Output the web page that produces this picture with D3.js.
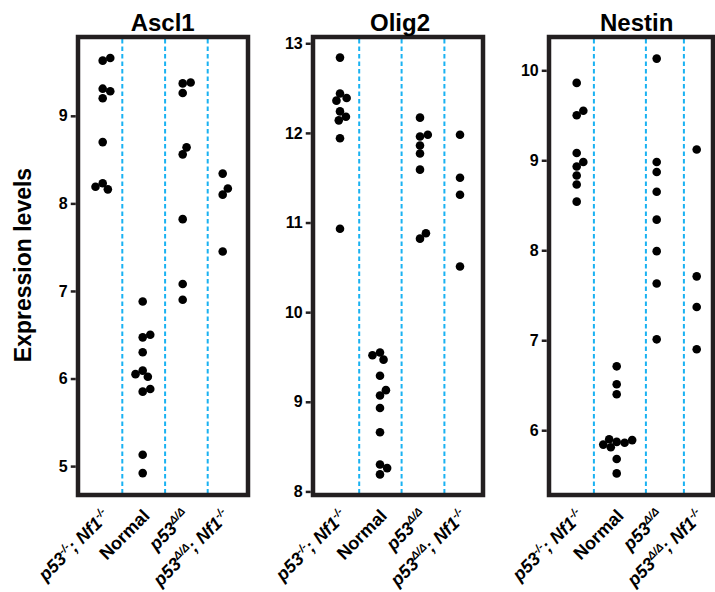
<!DOCTYPE html>
<html>
<head>
<meta charset="utf-8">
<script src="https://cdn.jsdelivr.net/npm/d3@7"></script>
<style>
  body { margin: 0; background: #fff; }
  text { font-family: "Liberation Sans", Arial, sans-serif; }
</style>
</head>
<body>
<script>
// Expression levels per group, three genes side by side

const genes = ["Ascl1", "Olig2", "Nestin"];

// label parts: [text, style] where style is "i" (italic), "sup" (superscript) or ""
const groupLabels = [
  [["p53", "i"], ["-/-", "sup"], ["; ", "i"], ["Nf1", "i"], ["-/-", "sup"]],
  [["Normal", ""]],
  [["p53", "i"], ["Δ/Δ", "sup"]],
  [["p53", "i"], ["Δ/Δ", "sup"], ["; ", "i"], ["Nf1", "i"], ["-/-", "sup"]]
];

const ascl1 = [
  [9.63, 9.66, 9.31, 9.28, 9.20, 8.70, 8.23, 8.16, 8.19],
  [6.88, 6.47, 6.50, 6.30, 6.09, 6.02, 6.05, 5.85, 5.88, 5.13, 4.92],
  [9.37, 9.38, 9.26, 8.56, 8.64, 7.82, 7.08, 6.90],
  [8.34, 8.10, 8.17, 7.45]
];
const olig2 = [
  [12.84, 12.44, 12.39, 12.36, 12.24, 12.18, 12.14, 11.94, 10.93],
  [9.55, 9.47, 9.52, 9.29, 9.07, 9.13, 8.93, 8.66, 8.30, 8.26, 8.19],
  [12.17, 11.96, 11.98, 11.86, 11.77, 11.59, 10.82, 10.88],
  [11.98, 11.50, 11.31, 10.51]
];
const nestin = [
  [9.86, 9.50, 9.55, 9.08, 8.93, 8.98, 8.83, 8.73, 8.54],
  [6.71, 6.51, 6.40, 5.87, 5.86, 5.81, 5.84, 5.89, 5.90, 5.68, 5.52],
  [10.13, 8.98, 8.87, 8.65, 8.34, 7.99, 7.63, 7.01],
  [9.12, 7.71, 7.37, 6.90]
];

const ascl1Ticks = [5, 6, 7, 8, 9];
const olig2Ticks = [8, 9, 10, 11, 12, 13];
const nestinTicks = [6, 7, 8, 9, 10];

const ascl1Domain = [4.67, 9.90];
const olig2Domain = [7.96, 13.07];
const nestinDomain = [5.28, 10.37];

// layout
const width = 715, height = 592;
const frameTop = 37, frameBottom = 495;
const panelLeft = [78, 313, 549];
const panelWidth = [170, 170, 164];
const dotOffset = [24.7, 27, 27.7];   // first group centre from panel left
const groupStep = 40;
// dotted separators, in group units
const separators = [[0.49, 1.56, 2.625], [0.48, 1.54, 2.61], [0.43, 1.73, 2.68]];
const r = 4.3;

const panels = [
  { gene: genes[0], values: ascl1, ticks: ascl1Ticks, domain: ascl1Domain },
  { gene: genes[1], values: olig2, ticks: olig2Ticks, domain: olig2Domain },
  { gene: genes[2], values: nestin, ticks: nestinTicks, domain: nestinDomain }
];

// simple beeswarm: each dot goes to the free x closest to the centre
function dodge(vals, y, d) {
  const placed = [];
  return vals.map(v => {
    const py = y(v);
    const cands = [0];
    placed.forEach(p => {
      const dy = Math.abs(p.y - py);
      if (dy < d) {
        const dx = Math.sqrt(d * d - dy * dy);
        cands.push(p.x + dx, p.x - dx);
      }
    });
    cands.sort((a, b) => Math.abs(a) - Math.abs(b) || b - a);
    const x = cands.find(c => placed.every(p => (p.x - c) ** 2 + (p.y - py) ** 2 >= d * d - 0.01));
    placed.push({ x, y: py });
    return x;
  });
}

const svg = d3.select("body").append("svg")
  .attr("width", width)
  .attr("height", height);

panels.forEach((p, pi) => {
  const left = panelLeft[pi];
  const g = svg.append("g");

  const y = d3.scaleLinear().domain(p.domain).range([frameBottom, frameTop]);
  const x = d3.scaleLinear()
    .domain([0, 3])
    .range([left + dotOffset[pi], left + dotOffset[pi] + 3 * groupStep]);

  // dotted separators
  g.selectAll("line.sep")
    .data(separators[pi])
    .join("line")
    .attr("class", "sep")
    .attr("x1", d => x(d))
    .attr("x2", d => x(d))
    .attr("y1", frameTop + 2)
    .attr("y2", frameBottom - 2)
    .attr("stroke", "#1ab2f2")
    .attr("stroke-width", 2)
    .attr("stroke-dasharray", "4.5,3");

  // dots
  p.values.forEach((vals, gi) => {
    const offs = dodge(vals, y, 8);
    g.selectAll(null)
      .data(vals.map((v, k) => ({ v, dx: offs[k] })))
      .join("circle")
      .attr("cx", d => x(gi) + d.dx)
      .attr("cy", d => y(d.v))
      .attr("r", r)
      .attr("fill", "#000");
  });

  // frame
  g.append("rect")
    .attr("x", left)
    .attr("y", frameTop)
    .attr("width", panelWidth[pi])
    .attr("height", frameBottom - frameTop)
    .attr("fill", "none")
    .attr("stroke", "#231f20")
    .attr("stroke-width", 4.5);

  // y axis
  const yAxis = g.append("g")
    .attr("transform", `translate(${left - 2.25},0)`)
    .call(d3.axisLeft(y).tickValues(p.ticks).tickSize(5).tickPadding(3).tickFormat(d3.format("d")));
  yAxis.select(".domain").remove();
  yAxis.selectAll(".tick line").attr("stroke", "#231f20").attr("stroke-width", 2.5);
  yAxis.selectAll(".tick text")
    .attr("fill", "#000")
    .style("font-family", "Liberation Sans, Arial, sans-serif")
    .style("font-size", "16px")
    .style("font-weight", "bold");

  // title
  g.append("text")
    .attr("x", (x(0) + x(3)) / 2)
    .attr("y", 31)
    .attr("text-anchor", "middle")
    .style("font-size", "24px")
    .style("font-weight", "bold")
    .text(p.gene);

  // x labels, rotated
  groupLabels.forEach((parts, gi) => {
    const t = g.append("text")
      .attr("transform", `translate(${x(gi) + 8},${frameBottom + 22}) rotate(-45)`)
      .attr("text-anchor", "end")
      .style("font-size", "18px")
      .style("font-weight", "bold");
    let shifted = false;
    parts.forEach(([s, st]) => {
      const ts = t.append("tspan").text(s);
      if (st === "sup") {
        ts.attr("dy", -7).style("font-size", "11px").style("font-style", "italic");
        shifted = true;
      } else {
        if (shifted) { ts.attr("dy", 7); shifted = false; }
        if (st === "i") ts.style("font-style", "italic");
      }
    });
  });
});

// shared y label
svg.append("text")
  .attr("transform", "translate(31,265) rotate(-90)")
  .attr("text-anchor", "middle")
  .style("font-size", "23px")
  .style("font-weight", "bold")
  .text("Expression levels");
</script>
</body>
</html>
